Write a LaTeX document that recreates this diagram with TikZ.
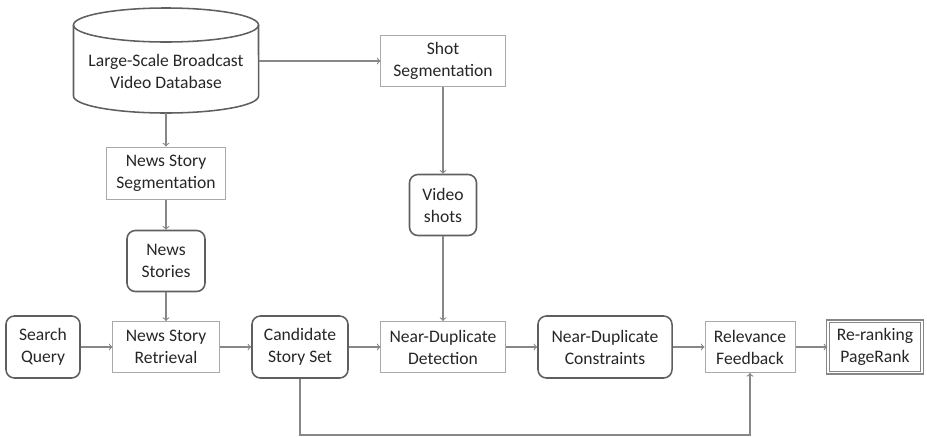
\documentclass[tikz,border=0pt]{standalone}
\usepackage{fontspec}
\setmainfont{Carlito}

\definecolor{boxgray}{RGB}{170,170,170}
\definecolor{rndgray}{RGB}{95,95,95}
\definecolor{arrgray}{RGB}{135,135,135}
\definecolor{txtgray}{RGB}{38,38,38}

\tikzset{
  proc/.style={draw=boxgray, line width=0.7pt, align=center, inner sep=0pt, text=txtgray},
  data/.style={draw=rndgray, line width=1.1pt, rounded corners=6pt, align=center, inner sep=0pt, text=txtgray},
  final/.style={draw=arrgray, line width=1pt, double=white, double distance=0.9pt, align=center, inner sep=0pt, text=txtgray},
  cyl/.style={draw=rndgray, line width=1.1pt},
  arr/.style={->, draw=arrgray, line width=0.8pt}
}

\begin{document}
\begin{tikzpicture}[x=0.025cm, y=-0.025cm, >=to, font=\fontsize{12.5}{15.6}\selectfont]
  \useasboundingbox (0,0) rectangle (927,436);
  % database cylinder
  \draw [cyl] (73.5,25) -- (73.5,96) arc [start angle=180, end angle=360, x radius=2.3125cm, y radius=0.425cm] -- (258.5,25);
  \draw [cyl] (166,25) ellipse [x radius=2.3125cm, y radius=0.425cm];
  \node [align=center, inner sep=0pt, text=txtgray, minimum width=4.625cm, minimum height=2.1cm]
        (db) at (166,71) {Large-Scale Broadcast\\Video Database};
  \node [proc, minimum width=3.1cm, minimum height=1.275cm] (shotseg) at (443,61) {Shot\\Segmentation};
  \node [proc, minimum width=2.95cm, minimum height=1.3cm] (nsseg) at (166,173) {News Story\\Segmentation};
  \node [data, minimum width=1.95cm, minimum height=1.525cm] (stories) at (166,261) {News\\Stories};
  \node [data, minimum width=1.675cm, minimum height=1.525cm] (shots) at (443,205) {Video\\shots};
  \node [data, minimum width=1.85cm, minimum height=1.55cm] (query) at (43,347) {Search\\Query};
  \node [proc, minimum width=2.65cm, minimum height=1.275cm] (retr) at (166,347) {News Story\\Retrieval};
  \node [data, minimum width=2.4cm, minimum height=1.55cm] (cand) at (300,347) {Candidate\\Story Set};
  \node [proc, minimum width=3.1cm, minimum height=1.275cm] (nddet) at (443,347) {Near-Duplicate\\Detection};
  \node [data, minimum width=3.35cm, minimum height=1.55cm] (ndcon) at (605,347) {Near-Duplicate\\Constraints};
  \node [proc, minimum width=2.25cm, minimum height=1.275cm] (relfb) at (750,347) {Relevance\\Feedback};
  \node [final, minimum width=2.35cm, minimum height=1.28cm] (rerank) at (875,347) {Re-ranking\\PageRank};
  \coordinate (loop) at (300,435);

  \draw [arr] (db.east |- shotseg) -- (shotseg);
  \draw [arr] (db.south) -- (nsseg);
  \draw [arr] (nsseg) -- (stories);
  \draw [arr] (stories) -- (retr);
  \draw [arr] (shotseg) -- (shots);
  \draw [arr] (shots) -- (nddet);
  \draw [arr] (query) -- (retr);
  \draw [arr] (retr) -- (cand);
  \draw [arr] (cand) -- (nddet);
  \draw [arr] (nddet) -- (ndcon);
  \draw [arr] (ndcon) -- (relfb);
  \draw [arr] (relfb) -- (rerank);
  \draw [arr] (cand.south) -- (loop) -| (relfb.south);
\end{tikzpicture}
\end{document}
